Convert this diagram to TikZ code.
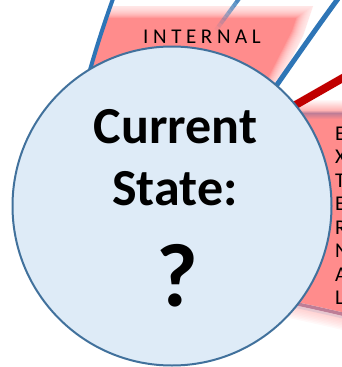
\documentclass[tikz,border=0pt]{standalone}
\usepackage{fontspec}
\setmainfont{Carlito}
\usetikzlibrary{calc}
\begin{document}
\begin{tikzpicture}[x=1pt,y=-1pt,
  lbl/.style={inner sep=0pt, anchor=base},
  bigtxt/.style={lbl, font=\fontsize{52}{52}\selectfont\bfseries},
  bluel/.style={draw=blueL, line width=4.5pt},
]
\definecolor{pinkF}{RGB}{255,140,140}
\definecolor{blueL}{RGB}{46,117,182}
\definecolor{redL}{RGB}{192,0,0}
\definecolor{circF}{RGB}{222,235,247}
\definecolor{circB}{RGB}{65,113,156}
\definecolor{mauve}{RGB}{190,125,150}
\useasboundingbox (0,0) rectangle (342,367);
\clip (0,0) rectangle (342,367);

% INTERNAL region: pink fill feathered inward with white strokes
\begin{scope}
  \clip (90,70) -- (114,-4) -- (345,-4) -- (345,250) -- (172,250) -- cycle;
  \fill[pinkF] (60,110) -- (80,6) -- (313,6) -- (303,36) -- (277,87) -- (172,206) -- cycle;
  \foreach \w in {2,4,...,24} {
    \draw[white, line width=\w pt, opacity=0.13, line join=round] (60,110) -- (80,6) -- (313,6) -- (303,36) -- (277,87) -- (172,206) -- cycle;
  }
\end{scope}

% EXTERNAL region
\foreach \w in {3,6,...,27} {
  \draw[pinkF, line width=\w pt, opacity=0.06] (250,296) .. controls (283,303) and (317,310) .. (350,318);
}
\fill[pinkF] (250,100) -- (350,100) -- (350,314) .. controls (317,306) and (283,299) .. (250,292) -- cycle;
\shade[top color=white, bottom color=pinkF!65!white] (250,99) rectangle (350,110);
\shade[top color=pinkF!65!white, bottom color=mauve] (250,110) rectangle (350,113);
\shade[top color=mauve, bottom color=pinkF] (250,113) rectangle (350,119);
\draw[mauve, line width=3.5pt] (250,294) .. controls (283,301) and (317,308) .. (350,316);
\draw[mauve!45!white, line width=2.5pt, opacity=0.8] (250,297) .. controls (283,304) and (317,311) .. (350,319);

% connectors
\draw[bluel, line width=4pt] (90,70) .. controls (97,45) and (106,18) .. (114,-4);
\foreach \i in {0,...,9} {
  \pgfmathsetmacro{\op}{0.05+0.1*\i}
  \draw[blueL, line width=4pt, opacity=\op] ($(216,30)!\i/10!(241,-4)$) -- ($(216,30)!\i/10+0.1!(241,-4)$);
}
\draw[bluel, line width=5pt] (272,92) .. controls (290,66) and (315,30) .. (340,-4);
\draw[redL, line width=8pt] (285,111) -- (348,75);

% circle
\node[circle, draw=circB, line width=2pt, fill=circF, minimum size=319pt, inner sep=0pt] (cs) at (172,206) {};

% texts
\node[lbl, anchor=base west, font=\fontsize{21}{21}\selectfont\addfontfeature{LetterSpace=22}] (int) at (143,43) {INTERNAL};
\node[bigtxt] (cur) at (175.5,143) {Current};
\node[bigtxt] (st) at (175,205) {State:};
\node[lbl, font=\fontsize{90}{90}\selectfont\bfseries] (q) at (177,306) {?};
\foreach \c [count=\k from 0] in {E,X,T,E,R,N,A,L} {
  \node[lbl, anchor=base west, font=\fontsize{21}{21}\selectfont] (ext\k) at (335,{140+23.5*\k}) {\c};
}
\end{tikzpicture}
\end{document}
